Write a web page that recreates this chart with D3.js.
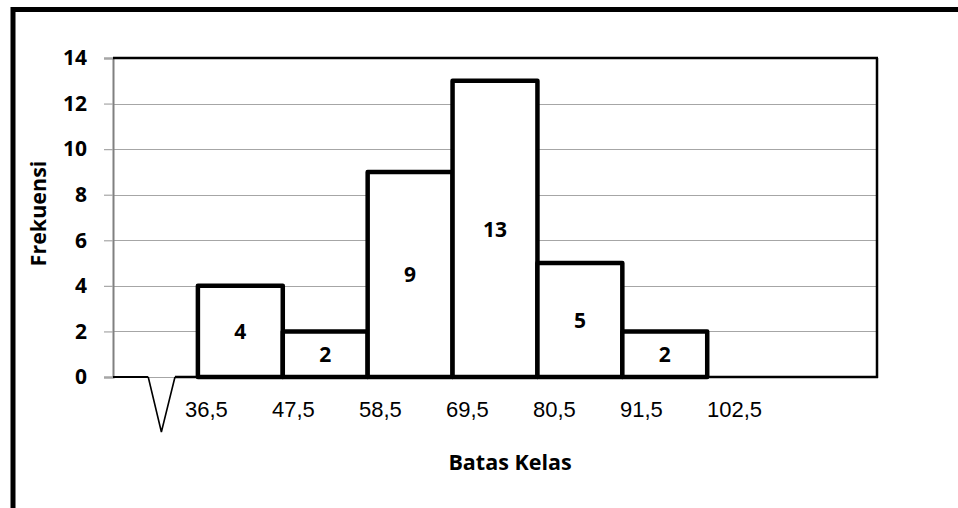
<!DOCTYPE html>
<html>
<head>
<meta charset="utf-8">
<script src="https://cdn.jsdelivr.net/npm/d3@7/dist/d3.min.js"></script>
<style>
  html, body { margin: 0; padding: 0; background: #fff; }
  svg { display: block; }
  .bold { font-family: "Open Sans", "DejaVu Sans", sans-serif; font-weight: 700; fill: #000; }
  .plain { font-family: "Liberation Sans", Arial, sans-serif; font-weight: 400; fill: #000; }
</style>
</head>
<body>
<svg id="chart" width="958" height="508"></svg>
<script>
// ---- data ----
const boundaries = ["36,5", "47,5", "58,5", "69,5", "80,5", "91,5", "102,5"];
const frequencies = [4, 2, 9, 13, 5, 2];
const yTicks = [0, 2, 4, 6, 8, 10, 12, 14];
const yTitle = "Frekuensi";
const xTitle = "Batas Kelas";

const toNum = s => +s.replace(",", ".");
const bins = frequencies.map((f, i) => ({
  lo: toNum(boundaries[i]), hi: toNum(boundaries[i + 1]), f
}));

const svg = d3.select("#chart");
const L = 113, R = 877, T = 58, B = 377;
const classW = toNum(boundaries[1]) - toNum(boundaries[0]);
const xMin = toNum(boundaries[0]) - classW;          // one empty class before the first bar
const xMax = xMin + 9 * classW;                        // nine class slots in the plot

const x = d3.scaleLinear().domain([xMin, xMax]).range([L, R]);
const y = d3.scaleLinear().domain([0, 14]).range([B, T]);
const xLab = d3.scalePoint().domain(boundaries).range([185, 707]);

// outer frame
svg.append("rect").attr("x", 13).attr("y", 9.5).attr("width", 1000).attr("height", 600)
  .attr("fill", "none").attr("stroke", "#000").attr("stroke-width", 5);

// gridlines
svg.append("g").selectAll("line").data(yTicks).join("line")
  .attr("x1", L).attr("x2", R)
  .attr("y1", d => Math.round(y(d)) + 0.5).attr("y2", d => Math.round(y(d)) + 0.5)
  .attr("stroke", "#a6a6a6").attr("stroke-width", 1.2);

// y axis (gray line, outward ticks, bold labels)
const yAxis = d3.axisLeft(y).tickValues(yTicks).tickSize(9).tickPadding(17);
const gy = svg.append("g").attr("transform", `translate(${L},0)`).call(yAxis);
gy.attr("font-family", null).attr("font-size", null);
gy.select(".domain").attr("stroke", "#808080").attr("stroke-width", 2);
gy.selectAll(".tick line").attr("stroke", "#a6a6a6").attr("stroke-width", 1.2);
gy.selectAll(".tick text").attr("class", "bold").style("font-size", "21px");

// plot border top & right
svg.append("line").attr("x1", L).attr("x2", R + 1).attr("y1", T).attr("y2", T)
  .attr("stroke", "#000").attr("stroke-width", 2.5);
svg.append("line").attr("x1", R).attr("x2", R).attr("y1", T).attr("y2", B + 1)
  .attr("stroke", "#000").attr("stroke-width", 2.5);

// baseline with break mark
const slot0 = x(xMin), slot1 = x(toNum(boundaries[0]));
const bw = slot1 - slot0;
const b1 = slot0 + bw * 0.415, bm = slot0 + bw * 0.57, b2 = slot0 + bw * 0.73;
svg.append("line").attr("x1", L).attr("x2", b1).attr("y1", B).attr("y2", B)
  .attr("stroke", "#000").attr("stroke-width", 2);
svg.append("line").attr("x1", b2).attr("x2", R + 1).attr("y1", B).attr("y2", B)
  .attr("stroke", "#000").attr("stroke-width", 2.5);
svg.append("path")
  .attr("d", `M${b1},${B} L${bm},${B + 55} L${b2},${B}`)
  .attr("fill", "none").attr("stroke", "#000").attr("stroke-width", 1.6);

// bars
svg.append("g").selectAll("rect").data(bins).join("rect")
  .attr("x", d => x(d.lo)).attr("width", d => x(d.hi) - x(d.lo))
  .attr("y", d => y(d.f)).attr("height", d => y(0) - y(d.f))
  .attr("fill", "#fff").attr("stroke", "#000").attr("stroke-width", 4.5)
  .attr("stroke-linejoin", "round");

// bar value labels
svg.append("g").selectAll("text").data(bins).join("text")
  .attr("class", "bold").style("font-size", "21px")
  .attr("x", d => (x(d.lo) + x(d.hi)) / 2)
  .attr("y", d => (y(d.f) + y(0)) / 2 + 2)
  .attr("text-anchor", "middle").attr("dominant-baseline", "middle")
  .text(d => d.f);

// x boundary labels
svg.append("g").selectAll("text").data(boundaries).join("text")
  .attr("class", "plain").style("font-size", "22px")
  .attr("x", d => xLab(d)).attr("y", 417)
  .attr("text-anchor", "start")
  .text(d => d);

// axis titles
svg.append("text").attr("class", "bold").style("font-size", "21.5px")
  .attr("x", 510).attr("y", 470).attr("text-anchor", "middle")
  .text(xTitle);
svg.append("text").attr("class", "bold").style("font-size", "21.5px")
  .attr("transform", `translate(46,${(T + B) / 2 - 4}) rotate(-90)`)
  .attr("text-anchor", "middle")
  .text(yTitle);
</script>
</body>
</html>
